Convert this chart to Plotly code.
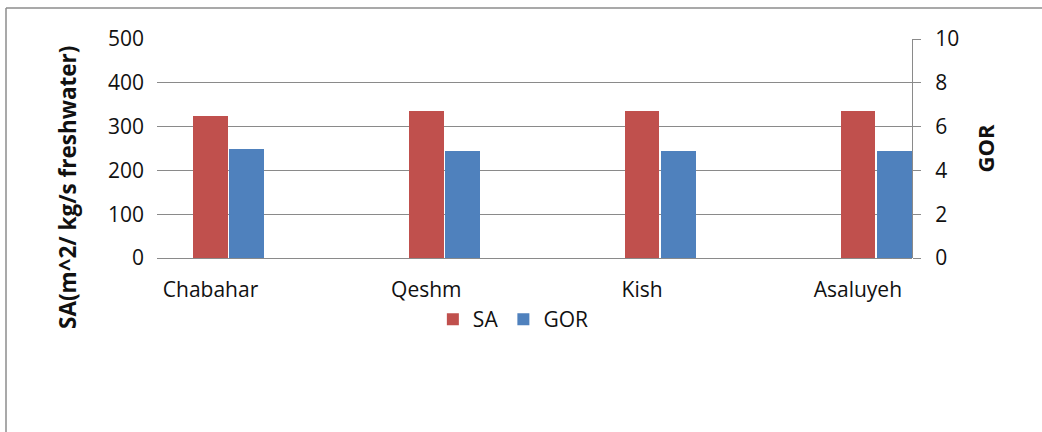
import plotly.graph_objects as go

# Desalination site comparison: specific area (SA) and gain output ratio (GOR)
sites = ["Chabahar", "Qeshm", "Kish", "Asaluyeh"]
sa_values = [325, 336, 336, 336]
gor_values = [5.0, 4.9, 4.9, 4.9]

sa_ticks = [0, 100, 200, 300, 400, 500]
gor_ticks = [0, 2, 4, 6, 8, 10]

RED = "#c0504d"
BLUE = "#4f81bd"
GRID = "#8a8a8a"
FONT = "Open Sans, Lato, Liberation Sans, sans-serif"

W, H = 1042, 432
L, R, T, B = 157, 912, 39, 258  # plot area in pixels

fig = go.Figure()
fig.add_trace(go.Bar(
    x=sites, y=sa_values, name="SA", marker=dict(color=RED, line=dict(width=0)),
    width=0.16, offset=-0.08, yaxis="y",
))
fig.add_trace(go.Bar(
    x=sites, y=gor_values, name="GOR", marker=dict(color=BLUE, line=dict(width=0)),
    width=0.162, offset=0.087, yaxis="y2",
))

def px_x(p):
    return (p - L) / (R - L)

def px_y(p):
    return (B - p) / (B - T)

# outer chart frame (top and left edges visible)
frame = dict(color="#8c8c8c", width=1.5)
shapes = [
    dict(type="line", xref="paper", yref="paper", x0=px_x(6), x1=px_x(W + 5),
         y0=px_y(8), y1=px_y(8), line=frame, layer="above"),
    dict(type="line", xref="paper", yref="paper", x0=px_x(6), x1=px_x(6),
         y0=px_y(8), y1=px_y(H + 5), line=frame, layer="above"),
]

# primary axis title, placed as a rotated annotation
annotations = [
    dict(text="<b>SA(m^2/ kg/s freshwater)</b>", textangle=-90, showarrow=False,
         xref="paper", yref="paper", x=px_x(67), y=px_y(188),
         xanchor="center", yanchor="middle", font=dict(size=22.5, color="#111111")),
]

fig.update_layout(
    width=W, height=H,
    margin=dict(l=L, r=W - R, t=T, b=H - B, pad=0),
    paper_bgcolor="white", plot_bgcolor="white",
    font=dict(family=FONT, size=20, color="#111111"),
    showlegend=True,
    legend=dict(orientation="h", x=0.472, xanchor="center", y=px_y(299), yanchor="top",
                font=dict(size=21), itemwidth=30, traceorder="normal",
                bgcolor="rgba(0,0,0,0)"),
    xaxis=dict(
        type="category", range=[-0.248, 3.251], showgrid=False, showline=False,
        ticks="", tickfont=dict(size=21), ticklabelstandoff=17,
    ),
    yaxis=dict(
        range=[0, 500], tickvals=sa_ticks, showgrid=True, gridcolor=GRID, gridwidth=1.3,
        zeroline=True, zerolinecolor=GRID, zerolinewidth=1.3, showline=False, ticks="",
        ticklabelstandoff=12, tickfont=dict(size=21),
    ),
    yaxis2=dict(
        range=[0, 10], tickvals=gor_ticks, overlaying="y", side="right",
        showgrid=False, zeroline=False, showline=True, linecolor=GRID, linewidth=1.3,
        ticks="outside", ticklen=8, tickcolor=GRID, tickwidth=1.3,
        ticklabelstandoff=10, tickfont=dict(size=21),
        title=dict(text="<b>GOR</b>", font=dict(size=22), standoff=20),
    ),
    bargap=0, shapes=shapes, annotations=annotations,
)

fig.write_html("out.html")
